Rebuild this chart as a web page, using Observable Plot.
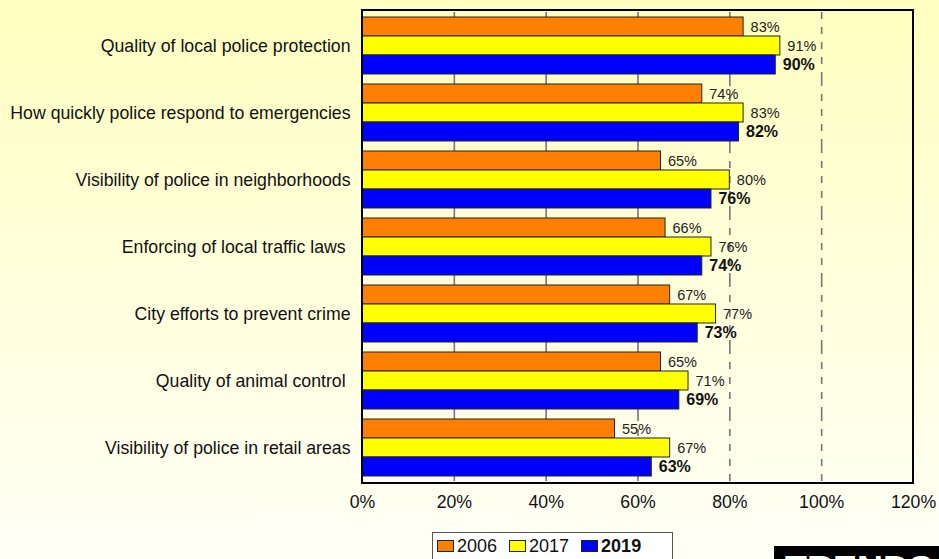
<!DOCTYPE html>
<html>
<head>
<meta charset="utf-8">
<script src="https://cdn.jsdelivr.net/npm/d3@7"></script>
<script src="https://cdn.jsdelivr.net/npm/@observablehq/plot@0.6"></script>
<style>
  html, body { margin: 0; padding: 0; }
  body {
    width: 939px; height: 559px; overflow: hidden; position: relative;
    background: linear-gradient(to bottom, #FFFFC0 0%, #FFFFDC 50%, #FFFFF6 100%);
    font-family: "Liberation Sans", Arial, sans-serif;
  }
  #chart { position: absolute; left: 0; top: 0; }
  #legend {
    position: absolute; left: 432px; top: 532px; width: 241px; height: 40px;
    background: #fff; border: 1px solid #555; box-sizing: border-box;
    padding: 3px 0 0 4px; display: flex; align-items: center; height: 40px;
    font-size: 18px; color: #111; line-height: 20px; align-items: flex-start;
  }
  #legend .item { display: flex; align-items: center; margin-right: 12px; height: 20px; }
  #legend .sw { width: 15px; height: 10px; border: 1px solid #222; margin-right: 3px; }
  #trends {
    position: absolute; left: 774px; top: 546px; width: 200px; height: 40px;
    background: #000; color: #fff; font-weight: bold; font-size: 36px;
    line-height: 36px; padding: 6px 0 0 11px; box-sizing: border-box; white-space: nowrap;
  }
</style>
</head>
<body>
<div id="chart"></div>
<div id="legend"></div>
<div id="trends">TRENDS</div>
<script>
const categories = [
  "Quality of local police protection",
  "How quickly police respond to emergencies",
  "Visibility of police in neighborhoods",
  "Enforcing of local traffic laws ",
  "City efforts to prevent crime",
  "Quality of animal control ",
  "Visibility of police in retail areas"
];
const years = ["2006", "2017", "2019"];
const values2006 = [83, 74, 65, 66, 67, 65, 55];
const values2017 = [91, 83, 80, 76, 77, 71, 67];
const values2019 = [90, 82, 76, 74, 73, 69, 63];
const colors = ["#FF8000", "#FFFF00", "#0000FF"];
const xTicks = [0, 20, 40, 60, 80, 100, 120];
const gridTicks = [20, 40, 60, 80, 100];

const seriesValues = [values2006, values2017, values2019];
const rows = [];
categories.forEach((c, i) => {
  years.forEach((y, j) => rows.push({category: c, year: y, value: seriesValues[j][i]}));
});

const W = 939, H = 520, mT = 10, mB = 37, mL = 362, mR = 26;

const chart = Plot.plot({
  width: W, height: H,
  marginLeft: mL, marginRight: mR, marginTop: mT, marginBottom: mB,
  style: {background: "transparent", fontFamily: "'Liberation Sans', Arial, sans-serif", fontSize: "17.7px", color: "#111", overflow: "visible"},
  x: {domain: [0, 120], ticks: xTicks, tickFormat: d => d + "%", tickSize: 0, tickPadding: 14, label: null},
  y: {domain: years, axis: null, padding: 0, insetTop: 5, insetBottom: 5},
  fy: {domain: categories, padding: 0, axis: "left", tickSize: 0, tickPadding: 12, label: null},
  color: {domain: years, range: colors},
  facet: {data: rows, y: "category"},
  marks: [
    Plot.ruleX(gridTicks, {stroke: "#777", strokeWidth: 1.6, strokeDasharray: "7,8"}),
    Plot.barX(rows, {x: "value", y: "year", fill: "year", stroke: "#222", strokeWidth: 1}),
    Plot.text(rows, {filter: d => d.year !== "2019", x: "value", y: "year", text: d => d.value + "%",
      textAnchor: "start", dx: 7, fontSize: 14.5, fill: "#222"}),
    Plot.text(rows, {filter: d => d.year === "2019", x: "value", y: "year", text: d => d.value + "%",
      textAnchor: "start", dx: 7, fontSize: 16, fontWeight: "bold", fill: "#111"})
  ]
});

document.getElementById("chart").appendChild(chart);

// outer plot frame, drawn from the x scale's range and the plot margins
const xr = chart.scale("x").range;
d3.select(chart).append("rect")
  .attr("x", Math.min(...xr)).attr("y", mT)
  .attr("width", Math.abs(xr[1] - xr[0])).attr("height", H - mT - mB)
  .attr("fill", "none").attr("stroke", "#000").attr("stroke-width", 2);

// legend
const legend = document.getElementById("legend");
years.forEach((y, j) => {
  const item = document.createElement("div");
  item.className = "item";
  const sw = document.createElement("div");
  sw.className = "sw";
  sw.style.background = colors[j];
  const t = document.createElement("span");
  t.textContent = y;
  if (y === "2019") t.style.fontWeight = "bold";
  item.appendChild(sw); item.appendChild(t);
  legend.appendChild(item);
});
</script>
</body>
</html>
